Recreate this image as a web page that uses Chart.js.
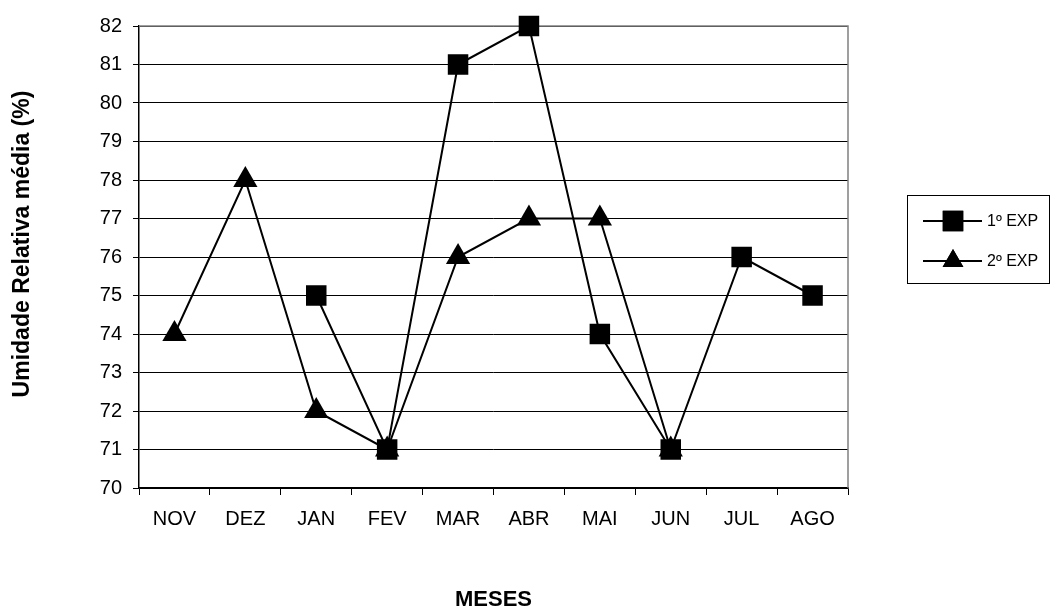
<!DOCTYPE html>
<html>
<head>
<meta charset="utf-8">
<script src="https://cdn.jsdelivr.net/npm/chart.js@4"></script>
<style>
  html, body { margin: 0; padding: 0; background: #fff; }
  #wrap { width: 1050px; height: 614px; }
</style>
</head>
<body>
<div id="wrap"><canvas id="c" width="1050" height="614"></canvas></div>
<script>
// Meses do período de observação
const meses = ['NOV', 'DEZ', 'JAN', 'FEV', 'MAR', 'ABR', 'MAI', 'JUN', 'JUL', 'AGO'];
// Umidade relativa média (%) em cada experimento
const exp1 = [null, null, 75, 71, 81, 82, 74, 71, 76, 75];
const exp2 = [74, 78, 72, 71, 76, 77, 77, 71, null, null];
const yTicks = [70, 71, 72, 73, 74, 75, 76, 77, 78, 79, 80, 81, 82];
const yTitle = 'Umidade Relativa média (%)';

const FONT = "'Liberation Sans', Arial, sans-serif";

// Moldura cinza no topo e à direita da área de plotagem
const frame = {
  id: 'frame',
  beforeDatasetsDraw(chart) {
    const { ctx, chartArea: a } = chart;
    ctx.save();
    ctx.strokeStyle = '#808080';
    ctx.lineWidth = 1.5;
    ctx.beginPath();
    ctx.moveTo(a.left, a.top);
    ctx.lineTo(a.right, a.top);
    ctx.lineTo(a.right, a.bottom);
    ctx.stroke();
    ctx.restore();
  }
};

// Título vertical do eixo Y
const yTitlePlugin = {
  id: 'yTitle',
  afterDraw(chart) {
    const { ctx } = chart;
    ctx.save();
    ctx.translate(23, 244);
    ctx.rotate(-Math.PI / 2);
    ctx.fillStyle = '#000';
    ctx.font = 'bold 23px ' + FONT;
    ctx.textAlign = 'center';
    ctx.textBaseline = 'middle';
    ctx.fillText(yTitle, 0, 0);
    ctx.restore();
  }
};

// Legenda em caixa à direita
const legendBox = {
  id: 'legendBox',
  afterDraw(chart) {
    const { ctx } = chart;
    const x0 = 907, y0 = 195, w = 142, h = 88;
    ctx.save();
    ctx.strokeStyle = '#000';
    ctx.lineWidth = 1;
    ctx.strokeRect(x0 + 0.5, y0 + 0.5, w, h);
    const rows = [
      { label: '1º EXP', style: 'rect', r: 14.5, y: 221 },
      { label: '2º EXP', style: 'triangle', r: 12, y: 261 }
    ];
    rows.forEach(row => {
      ctx.strokeStyle = '#000';
      ctx.lineWidth = 2;
      ctx.beginPath();
      ctx.moveTo(923, row.y);
      ctx.lineTo(982, row.y);
      ctx.stroke();
      ctx.fillStyle = '#000';
      Chart.helpers.drawPoint(ctx, { pointStyle: row.style, radius: row.r, borderWidth: 0 }, 953, row.y);
      ctx.fill();
      ctx.fillStyle = '#000';
      ctx.font = '16px ' + FONT;
      ctx.textBaseline = 'middle';
      ctx.textAlign = 'left';
      ctx.fillText(row.label, 987, row.y + 1);
    });
    ctx.restore();
  }
};

new Chart(document.getElementById('c'), {
  type: 'line',
  data: {
    labels: meses,
    datasets: [
      {
        label: '2º EXP',
        data: exp2,
        borderColor: '#000',
        backgroundColor: '#000',
        borderWidth: 2,
        pointStyle: 'triangle',
        pointRadius: 14,
        pointBorderWidth: 0,
        tension: 0,
        spanGaps: false,
        clip: false
      },
      {
        label: '1º EXP',
        data: exp1,
        borderColor: '#000',
        backgroundColor: '#000',
        borderWidth: 2,
        pointStyle: 'rect',
        pointRadius: 14.5,
        pointBorderWidth: 0,
        tension: 0,
        spanGaps: false,
        clip: false
      }
    ]
  },
  options: {
    responsive: false,
    animation: false,
    devicePixelRatio: 1,
    layout: { padding: { top: 26, right: 202, left: 0, bottom: 0 } },
    plugins: {
      legend: { display: false },
      tooltip: { enabled: false }
    },
    scales: {
      x: {
        offset: true,
        grid: {
          offset: true,
          drawOnChartArea: false,
          drawTicks: true,
          tickLength: 7,
          color: '#000',
          lineWidth: 1
        },
        border: { color: '#000', width: 1.5 },
        ticks: {
          color: '#000',
          font: { family: FONT, size: 20 },
          padding: 12,
          maxRotation: 0,
          autoSkip: false
        },
        title: {
          display: true,
          text: 'MESES',
          color: '#000',
          font: { family: FONT, size: 22, weight: 'bold' },
          padding: { top: 4, bottom: 1 }
        },
        afterFit(scale) { scale.height = 614 - 488; }
      },
      y: {
        min: 70,
        max: 82,
        afterBuildTicks(scale) { scale.ticks = yTicks.map(v => ({ value: v })); },
        grid: {
          color: '#000',
          lineWidth: 1,
          drawTicks: true,
          tickLength: 6
        },
        border: { color: '#000', width: 1.5 },
        ticks: {
          color: '#000',
          font: { family: FONT, size: 20 },
          padding: 11
        },
        title: { display: false },
        afterFit(scale) { scale.width = 139; }
      }
    }
  },
  plugins: [frame, yTitlePlugin, legendBox]
});
</script>
</body>
</html>
